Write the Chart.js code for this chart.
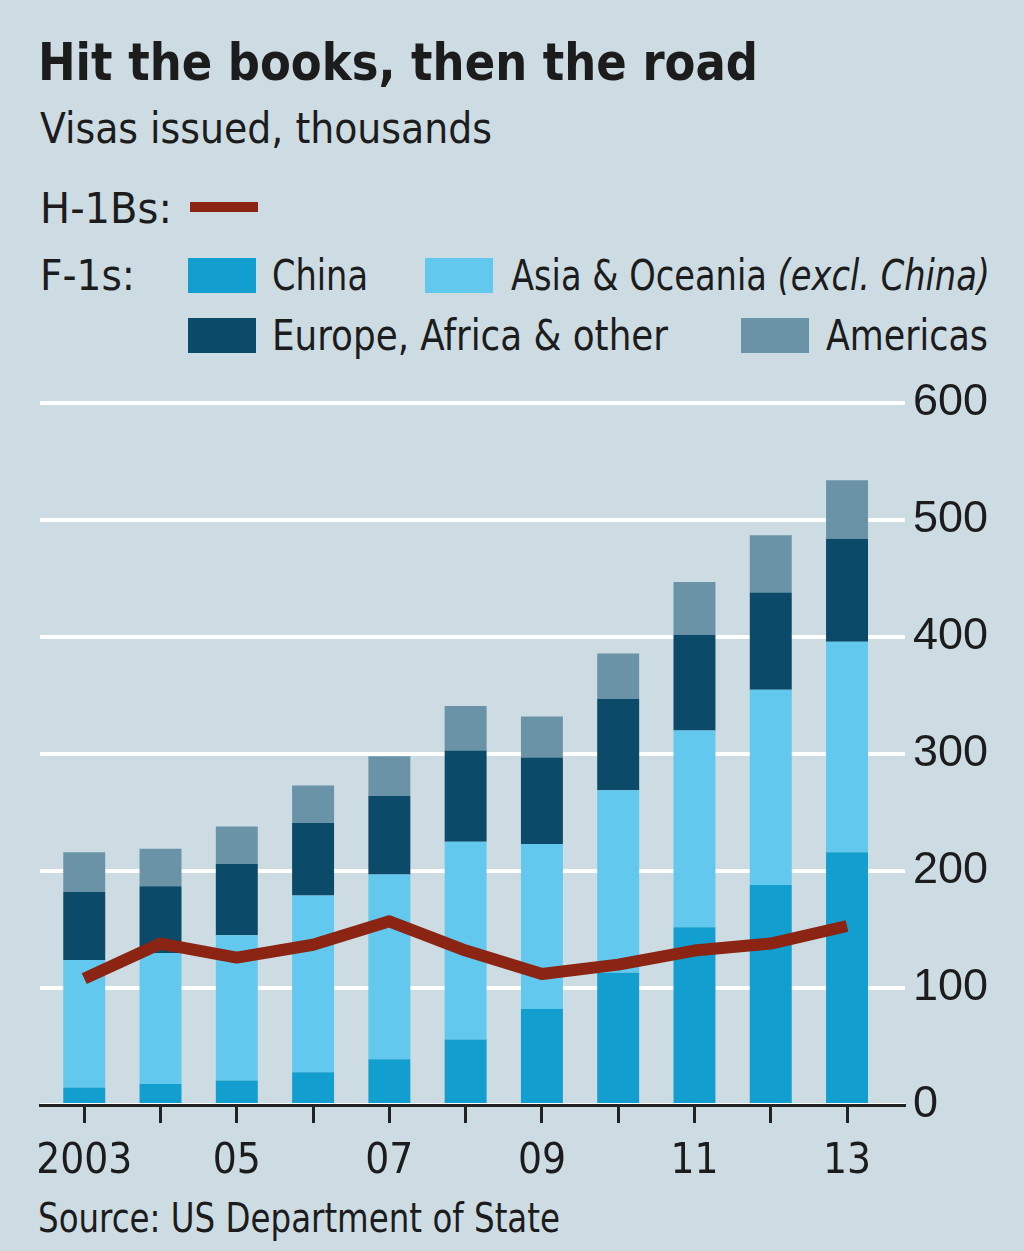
<!DOCTYPE html>
<html>
<head>
<meta charset="utf-8">
<script src="https://cdn.jsdelivr.net/npm/chart.js@4/dist/chart.umd.min.js"></script>
<style>
  html, body { margin: 0; padding: 0; }
  body { width: 1024px; height: 1251px; background: #cddbe3; position: relative; overflow: hidden;
         font-family: 'DejaVu Sans Condensed', 'Liberation Sans Narrow', 'DejaVu Sans', sans-serif; color: #1c1c1c; }
  .t { position: absolute; white-space: nowrap; transform-origin: 0 0; line-height: 1; }
  .box { position: absolute; width: 68px; height: 35px; }
  #wrap { position: absolute; left: 0; top: 360px; width: 1024px; height: 830px; }
</style>
</head>
<body>
<div class="t" id="title" data-w="720" style="left:38px; top:36px; font-size:52px; font-weight:bold;">Hit the books, then the road</div>
<div class="t" id="sub" data-w="452" style="left:40px; top:108px; font-size:42px;">Visas issued, thousands</div>
<div class="t" data-w="132" style="left:40px; top:188px; font-size:42px;">H-1Bs:</div>
<div style="position:absolute; left:190px; top:202px; width:68px; height:10px; background:#8b2412;"></div>
<div class="t" data-w="95" style="left:40px; top:255px; font-size:42px;">F-1s:</div>
<div class="box" style="left:188px; top:258px; background:#129fd0;"></div>
<div class="t" data-w="96" style="left:272px; top:255px; font-size:42px;">China</div>
<div class="box" style="left:425px; top:258px; background:#62c8ee;"></div>
<div class="t" data-w="479" style="left:511px; top:255px; font-size:42px;">Asia &amp; Oceania <i>(excl. China)</i></div>
<div class="box" style="left:188px; top:318px; background:#0b4a68;"></div>
<div class="t" data-w="396" style="left:272px; top:315px; font-size:42px;">Europe, Africa &amp; other</div>
<div class="box" style="left:741px; top:318px; background:#6b93a8;"></div>
<div class="t" data-w="162" style="left:826px; top:315px; font-size:42px;">Americas</div>
<div id="wrap"><canvas id="c"></canvas></div>
<div class="t" data-w="522" style="left:38px; top:1198px; font-size:40px;">Source: US Department of State</div>
<script>
// ---- data ----
const years = [2003, 2004, 2005, 2006, 2007, 2008, 2009, 2010, 2011, 2012, 2013];
const yearLabels = ['2003', '', '05', '', '07', '', '09', '', '11', '', '13'];
const china    = [15, 18, 21, 28, 39, 56, 82, 113, 152, 188, 216];
const asiaOce  = [109, 112, 124, 151, 158, 169, 141, 156, 168, 167, 180];
const eurAfr   = [58, 57, 61, 62, 67, 78, 74, 78, 82, 83, 88];
const americas = [34, 32, 32, 32, 34, 38, 35, 39, 45, 49, 50];
const h1b      = [108, 138, 126, 137, 157, 132, 112, 120, 132, 138, 153];
const yTicks   = [0, 100, 200, 300, 400, 500, 600];

// fit text widths
document.querySelectorAll('.t[data-w]').forEach(el => {
  const w = el.getBoundingClientRect().width;
  el.style.transform = 'scaleX(' + (parseFloat(el.dataset.w) / w) + ')';
});

const pts = arr => years.map((yr, i) => ({ x: yr, y: arr[i] }));
const barDs = (label, arr, color) => ({
  type: 'bar', label, data: pts(arr), backgroundColor: color, borderWidth: 0,
  stack: 'f1', order: 2, barPercentage: 0.55, categoryPercentage: 1.0
});

new Chart(document.getElementById('c'), {
  data: {
    datasets: [
      barDs('China', china, '#129fd0'),
      barDs('Asia & Oceania', asiaOce, '#62c8ee'),
      barDs('Europe, Africa & other', eurAfr, '#0b4a68'),
      barDs('Americas', americas, '#6b93a8'),
      { type: 'line', label: 'H-1Bs', data: pts(h1b), borderColor: '#8b2412', borderWidth: 12,
        pointRadius: 0, tension: 0, stack: 'h1b', order: 0, borderJoinStyle: 'round', borderCapStyle: 'butt' }
    ]
  },
  options: {
    responsive: true, maintainAspectRatio: false, animation: false,
    layout: { padding: { left: 40, top: 43, right: 0, bottom: 0 } },
    plugins: { legend: { display: false }, tooltip: { enabled: false } },
    scales: {
      x: {
        type: 'linear', stacked: true, min: 2002.42, max: 2013.76, offset: false,
        afterBuildTicks: s => { s.ticks = years.map(v => ({ value: v })); },
        afterFit: s => { s.height = 85; },
        grid: { display: true, offset: false, drawOnChartArea: false, drawTicks: true, tickLength: 18, tickWidth: 3, tickColor: '#222' },
        border: { display: true, color: '#222', width: 3 },
        ticks: {
          autoSkip: false, maxRotation: 0, padding: 14, color: '#1c1c1c',
          font: { family: "'DejaVu Sans Condensed', 'Liberation Sans Narrow', 'DejaVu Sans'", size: 42 },
          callback: (v, i) => yearLabels[years.indexOf(v)] ?? ''
        }
      },
      y: {
        position: 'right', stacked: true, min: 0, max: 600,
        afterBuildTicks: s => { s.ticks = yTicks.map(v => ({ value: v })); },
        afterFit: s => { s.width = 119; },
        grid: { color: '#ffffff', lineWidth: 4, drawTicks: false },
        border: { display: false },
        ticks: { padding: 8, color: '#1c1c1c', font: { family: "'Liberation Sans', Arial", size: 45 } }
      }
    }
  }
});
</script>
</body>
</html>
